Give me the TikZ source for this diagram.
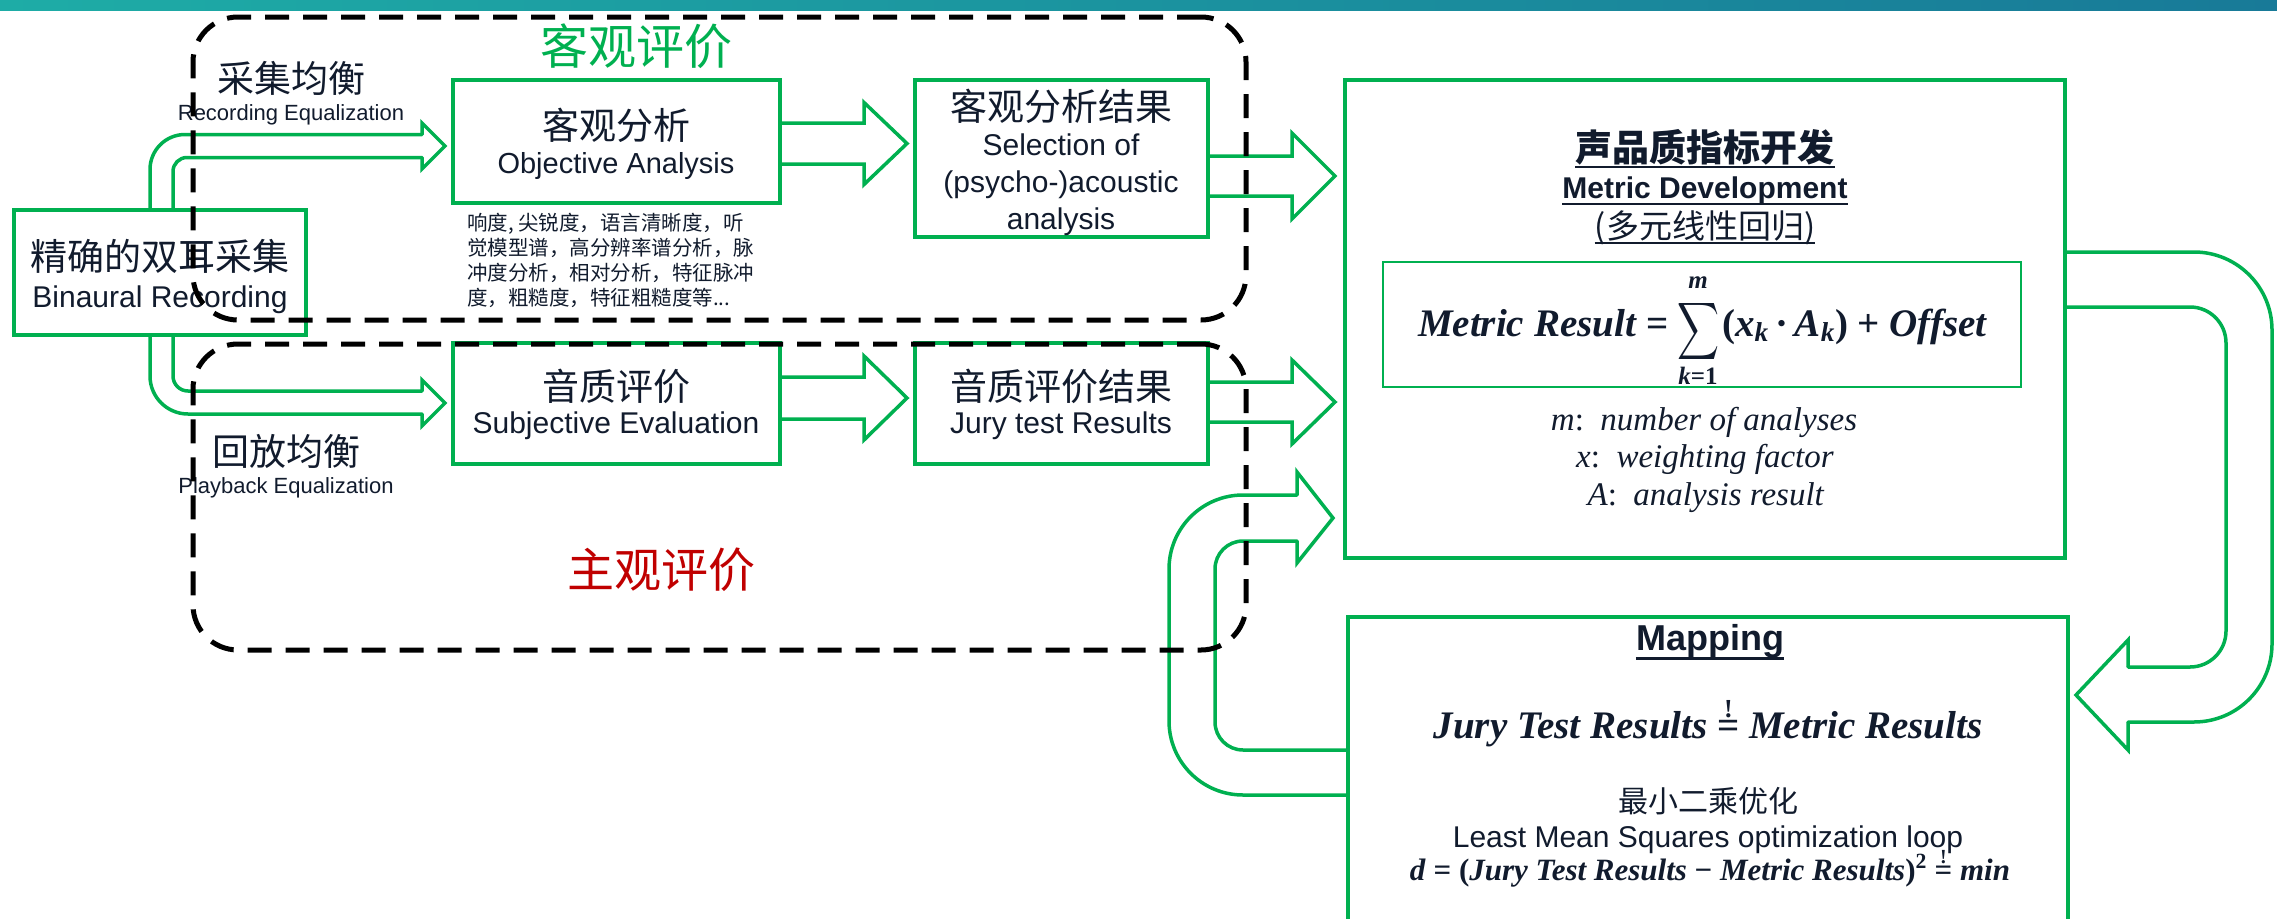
\RequirePackage{fix-cm}
\documentclass[tikz,border=0pt]{standalone}
\usepackage{fontspec}
\usepackage{graphicx}
\setmainfont{Liberation Sans}
\newfontfamily\cjk{Noto Sans CJK SC}
\newfontfamily\fser{Liberation Serif}
\usetikzlibrary{calc}
\definecolor{gr}{RGB}{0,176,80}
\definecolor{rd}{RGB}{192,0,0}
\definecolor{tx}{RGB}{17,27,45}
\definecolor{tealL}{RGB}{30,172,166}
\definecolor{tealR}{RGB}{24,122,152}
\newcommand\fs[1]{\fontsize{#1}{#1}\selectfont}
\newcommand\blockarr[5]{\draw[barrow] ($(#1)+(0,-#3)$) -- ($(#2)+(-#5,-#3)$) -- ($(#2)+(-#5,-#4)$) -- (#2) -- ($(#2)+(-#5,#4)$) -- ($(#2)+(-#5,#3)$) -- ($(#1)+(0,#3)$);}
\begin{document}
\begin{tikzpicture}[x=1pt,y=-1pt,
  box/.style={fill=white, draw=none, inner sep=0, outer sep=0},
  barrow/.style={draw=gr, line width=3.5, line join=miter},
  rail/.style={draw=gr, line width=3.5, line cap=round},
  grp/.style={draw=black, line width=5, dash pattern=on 24pt off 14pt, rounded corners=45, inner sep=0},
  lbl/.style={text=tx, inner sep=0, align=center},
  uline/.style={draw=tx, line width=2.5},
]
\useasboundingbox (0,0) rectangle (2277,918);
\clip (0,0) rectangle (2277,918);
% header band
\shade[left color=tealL, right color=tealR] (0,0) rectangle (2277,10);

% box positions (outlines drawn after the arrows)
\path
  (160,272.5) node[box, minimum width=292, minimum height=125] (bin) {}
  (616.5,141.5) node[box, minimum width=327, minimum height=123] (obj) {}
  (1061.5,158.5) node[box, minimum width=293, minimum height=157] (sel) {}
  (616.5,403.5) node[box, minimum width=327, minimum height=121] (subj) {}
  (1061.5,403.5) node[box, minimum width=293, minimum height=121] (jury) {}
  (1705,319) node[box, minimum width=720, minimum height=478] (metric) {}
  (1708,797) node[box, minimum width=720, minimum height=360] (map) {};
\node[box, minimum width=638, minimum height=125] (fbox) at (1702,324.5) {};

% straight block arrows
\coordinate (a1s) at ($(obj.east)+(0,2)$);
\coordinate (a1e) at ($(sel.west |- a1s)+(-8,0)$);
\blockarr{a1s}{a1e}{20.5}{41}{43}
\coordinate (a2s) at ($(sel.east)+(0,17.5)$);
\coordinate (a2e) at ($(metric.west |- a2s)+(-10,0)$);
\blockarr{a2s}{a2e}{20}{43}{43}
\coordinate (a3s) at ($(subj.east)+(0,-5.5)$);
\coordinate (a3e) at ($(jury.west |- a3s)+(-8,0)$);
\blockarr{a3s}{a3e}{21}{42}{43}
\coordinate (a4s) at ($(jury.east)+(0,-1.5)$);
\coordinate (a4e) at ($(metric.west |- a4s)+(-10,0)$);
\blockarr{a4s}{a4e}{20}{42}{43}

% curved arrow binaural -> objective
\draw[rail, rounded corners=35] ($(bin.north)+(-10,0)$) -- (150,134.5) -- (422,134.5);
\draw[rail, rounded corners=14] ($(bin.north)+(13,0)$) -- (173,157.5) -- (422,157.5);
\draw[barrow] (422,134.5) -- (422,123) -- ($(obj.west)+(-8,4.5)$) -- (422,169) -- (422,157.5);
% curved arrow binaural -> subjective
\draw[rail, rounded corners=38] ($(bin.south)+(-10,0)$) -- (150,414) -- (422,414);
\draw[rail, rounded corners=15] ($(bin.south)+(13,0)$) -- (173,391) -- (422,391);
\draw[barrow] (422,414) -- (422,426) -- ($(subj.west)+(-8,-0.5)$) -- (422,380) -- (422,391);
% loop mapping -> metric
\draw[rail, rounded corners=74] ($(map.west)+(0,-2)$) -- (1169,795) -- (1169,495) -- (1297,495);
\draw[rail, rounded corners=28] ($(map.west)+(0,-47)$) -- (1215,750) -- (1215,541) -- (1297,541);
\draw[barrow] (1297,495) -- (1297,472) -- ($(metric.west |- 0,518)+(-12,0)$) -- (1297,563) -- (1297,541);
% loop metric -> mapping
\draw[rail, rounded corners=78] ($(metric.east)+(0,-67)$) -- (2272,252) -- (2272,722) -- (2128,722);
\draw[rail, rounded corners=36] ($(metric.east)+(0,-12)$) -- (2226,307) -- (2226,667) -- (2128,667);
\draw[barrow] (2128,722) -- (2128,750) -- ($(map.east |- 0,695)+(8,0)$) -- (2128,640) -- (2128,667);

% box outlines on top of arrow tails
\foreach \n/\lw in {bin/4, obj/4, sel/4, subj/4, jury/4, metric/4, map/3.5, fbox/2}
  \draw[gr, line width=\lw] (\n.north west) rectangle (\n.south east);

% texts
\node[lbl, text=gr, font=\cjk\fs{48}] (tobj) at (636,46) {客观评价};
\node[lbl, text=rd, font=\cjk\fs{47}] (tsubj) at (661,570) {主观评价};
\node[lbl, font=\cjk\fs{37}] (reccn) at (291,78) {采集均衡};
\node[lbl, font=\fs{22}] (recen) at (291,115) {Recording Equalization};
\node[lbl, font=\cjk\fs{37}] (pbcn) at (286,451) {回放均衡};
\node[lbl, font=\fs{22}] (pben) at (286,488) {Playback Equalization};
\node[lbl, font=\cjk\fs{37}] (bincn) at (160,256) {精确的双耳采集};
\node[lbl, font=\fs{30}] (binen) at (160,300) {Binaural Recording};
\node[lbl, font=\cjk\fs{37}] (objcn) at (616,125) {客观分析};
\node[lbl, font=\fs{29}] (objen) at (616,166) {Objective Analysis};
\node[lbl, anchor=north west, align=left, font=\cjk\fontsize{20.5}{25}\selectfont] (params) at (467,213) {响度, 尖锐度，语言清晰度，听\\觉模型谱，高分辨率谱分析，脉\\冲度分析，相对分析，特征脉冲\\度，粗糙度，特征粗糙度等...};
\node[lbl, font=\cjk\fs{37}] (selcn) at (1061,106) {客观分析结果};
\node[lbl, font=\fontsize{30}{37}\selectfont] (selen) at (1061,185) {Selection of\\(psycho-)acoustic\\analysis};
\node[lbl, font=\cjk\fs{37}] (subjcn) at (616,386) {音质评价};
\node[lbl, font=\fs{30}] (subjen) at (616,426) {Subjective Evaluation};
\node[lbl, font=\cjk\fs{37}] (jurycn) at (1061,386) {音质评价结果};
\node[lbl, font=\fs{30}] (juryen) at (1061,426) {Jury test Results};

% metric development
\node[lbl, anchor=base, font=\cjk\bfseries\fs{37}] (mdcn) at (1705,161) {声品质指标开发};
\draw[uline] ($(mdcn.base west)+(0,6)$) -- ($(mdcn.base east)+(0,6)$);
\node[lbl, anchor=base, font=\bfseries\fs{30}] (mden) at (1705,198) {Metric Development};
\draw[uline] ($(mden.base west)+(0,6)$) -- ($(mden.base east)+(0,6)$);
\node[lbl, anchor=base, font=\cjk\fs{33}] (mdcn2) at (1705,238) {(多元线性回归)};
\draw[uline, line width=2] ($(mdcn2.base west)+(0,5)$) -- ($(mdcn2.base east)+(0,5)$);
% formula
\node[lbl, anchor=base east, font=\fser\bfseries\fs{39}] (fl) at (1669,336) {\textit{Metric Result} =};
\node[lbl] (sig) at (1698,331) {\resizebox*{42pt}{64pt}{$\displaystyle\sum$}};
\node[lbl, font=\fser\bfseries\itshape\fs{25}] (sup) at (1698,283) {m};
\node[lbl, anchor=base, font=\fser\bfseries\fs{25}] (sub) at (1698,384) {\textit{k}=1};
\node[lbl, anchor=base west, font=\fser\bfseries\fs{39}] (fr) at (1722,336) {(\textit{x}\textsubscript{\textit{k}}\,·\,\textit{A}\textsubscript{\textit{k}}) + \textit{Offset}};
\node[lbl, anchor=base, font=\fser\fs{33}] (dm) at (1704,430) {\textit{m}:\ \ \textit{number of analyses}};
\node[lbl, anchor=base, font=\fser\fs{33}] (dx) at (1705,467) {\textit{x}:\ \ \textit{weighting factor}};
\node[lbl, anchor=base, font=\fser\fs{33}] (dA) at (1706,505) {\textit{A}:\ \ \textit{analysis result}};

% mapping
\node[lbl, anchor=base, font=\bfseries\fs{36}] (mapt) at (1710,650) {Mapping};
\draw[uline, line width=3] ($(mapt.base west)+(0,8)$) -- ($(mapt.base east)+(0,8)$);
\node[lbl, anchor=base, font=\fser\bfseries\fs{39}] (eqa) at (1708,738) {\textit{Jury Test Results} $\stackrel{\mbox{\fs{26}!}}{\mbox{=}}$ \textit{Metric Results}};
\node[lbl, font=\cjk\fs{30}] (lmscn) at (1708,801) {最小二乘优化};
\node[lbl, font=\fs{30}] (lmsen) at (1708,840) {Least Mean Squares optimization loop};
\node[lbl, anchor=base, font=\fser\bfseries\fs{31}] (eqb) at (1710,880) {\textit{d} = (\textit{Jury Test Results} − \textit{Metric Results})\textsuperscript{2} $\stackrel{\mbox{\fs{20}!}}{\mbox{=}}$ \textit{min}};

% dashed groups
\node[grp, minimum width=1053, minimum height=303] (grp1) at (719.5,168.5) {};
\node[grp, minimum width=1053, minimum height=306] (grp2) at (719.5,497) {};
\end{tikzpicture}
\end{document}
